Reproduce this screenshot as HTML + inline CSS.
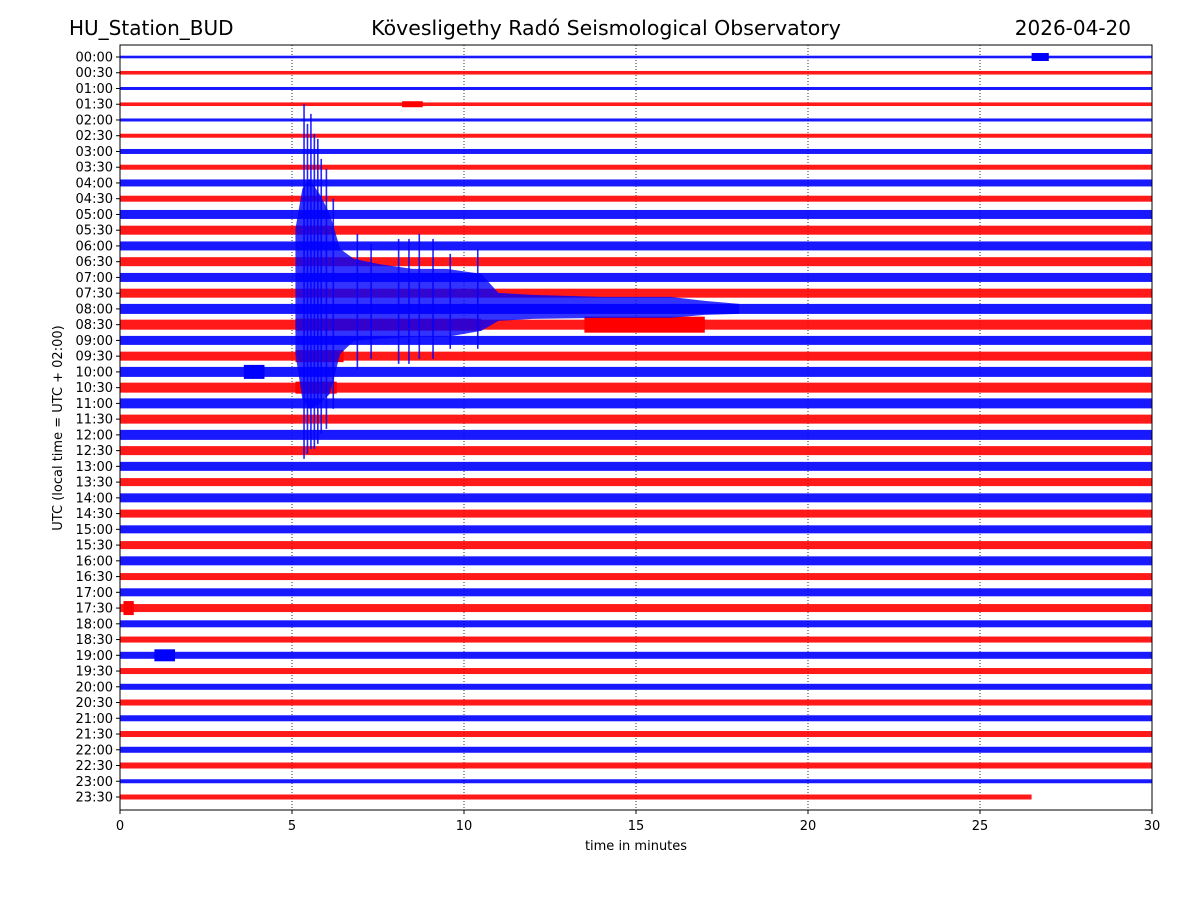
<!DOCTYPE html>
<html><head><meta charset="utf-8">
<style>
body{margin:0;background:#fff;}
svg{display:block;font-family:"DejaVu Sans","Liberation Sans",sans-serif;}
</style></head>
<body>
<svg id="chart" width="1200" height="900" viewBox="0 0 1200 900">
<rect width="1200" height="900" fill="#fff"/>
<text x="69" y="35" font-size="20">HU_Station_BUD</text>
<text x="606" y="35" font-size="20.5" text-anchor="middle">Kövesligethy Radó Seismological Observatory</text>
<text x="1131" y="35" font-size="20" text-anchor="end">2026-04-20</text>
<g id="grid"></g>
<g id="traces"></g>
<g id="axes"></g>
<text x="636" y="850" font-size="13" text-anchor="middle">time in minutes</text>
<text transform="translate(62,428) rotate(-90)" font-size="13" text-anchor="middle">UTC (local time = UTC + 02:00)</text>
</svg>
<script>
const rowLabels = ["00:00","00:30","01:00","01:30","02:00","02:30","03:00","03:30","04:00","04:30","05:00","05:30","06:00","06:30","07:00","07:30","08:00","08:30","09:00","09:30","10:00","10:30","11:00","11:30","12:00","12:30","13:00","13:30","14:00","14:30","15:00","15:30","16:00","16:30","17:00","17:30","18:00","18:30","19:00","19:30","20:00","20:30","21:00","21:30","22:00","22:30","23:00","23:30"];
const baseAmp = [1.3,1.8,1.5,1.8,1.5,2,2.5,2.5,3.5,3,4.5,4.5,4.5,4.5,4.5,4.5,5,5,4.5,4.5,5,5,5,4.5,5,4.5,4.5,4,4.5,4,4,4,4.5,3.5,4,4,3.5,3,3.5,3,3,3,3,3,3,3,2,2.5];
const rowEnd = [30,30,30,30,30,30,30,30,30,30,30,30,30,30,30,30,30,30,30,30,30,30,30,30,30,30,30,30,30,30,30,30,30,30,30,30,30,30,30,30,30,30,30,30,30,30,30,26.5];
const xTicks = [0,5,10,15,20,25,30];
// earthquake envelope on 08:00 row (px above / below baseline)
const quakeRow = 16;
const quakeMin = [5.1,5.3,5.5,5.8,6.1,6.4,6.8,7.5,8.5,9.5,10.5,11,12,14,16,17,18];
const quakeUp  = [80,120,130,115,95,60,50,45,40,40,35,16,14,12,12,8,5];
const quakeDown= [45,90,100,95,85,45,32,30,28,28,22,12,10,9,9,6,5];
// individual spikes: minute, up px, down px
const spikeMin  = [5.35,5.45,5.55,5.65,5.75,5.85,6.0,6.2,6.9,7.3,8.1,8.4,8.7,9.1,9.6,10.4];
const spikeUp   = [205,185,195,175,170,150,140,110,75,65,70,70,75,70,55,60];
const spikeDown = [150,145,140,140,135,125,120,100,60,50,55,55,50,50,40,40];
// smaller events: row, start min, end min, half amplitude px
const evRow   = [17,17,19,21,20,38,35,0,3];
const evStart = [5.1,13.5,5.1,5.1,3.6,1.0,0.1,26.5,8.2];
const evEnd   = [10.5,17,6.5,6.3,4.2,1.6,0.4,27.0,8.8];
const evAmp   = [6,8,6,6,7,6,7,4,3];

const NS="http://www.w3.org/2000/svg";
const X0=120,X1=1152,Y0=45,Y1=810;
const xs=m=>X0+m*(X1-X0)/30;
const ys=i=>57+i*(797-57)/47;
const color=i=>i%2===0?"#0000ff":"#ff0000";
const grid=document.getElementById('grid'),tr=document.getElementById('traces'),ax=document.getElementById('axes');
function mk(tag,attrs,parent){const e=document.createElementNS(NS,tag);for(const k in attrs)e.setAttribute(k,attrs[k]);parent.appendChild(e);return e;}

xTicks.forEach(t=>{
  if(t>0&&t<30){const l=mk('line',{x1:xs(t),x2:xs(t),y1:Y0,y2:Y1,stroke:'#000','stroke-width':0.8,'stroke-dasharray':'1,2'},grid);
  
  }
  const tk=mk('line',{x1:xs(t),x2:xs(t),y1:Y1,y2:Y1+4,stroke:'#000'},ax);
  
  
  const tx=mk('text',{x:xs(t),y:Y1+20,'font-size':13,'text-anchor':'middle'},ax);tx.textContent=t;
  
  
});

rowLabels.forEach((lab,i)=>{
  const y=ys(i),a=baseAmp[i];
  const r=mk('rect',{x:xs(0),y:y-a,width:xs(rowEnd[i])-xs(0),height:2*a,fill:color(i),opacity:0.9},tr);
  
  
  const tk=mk('line',{x1:X0-4,x2:X0,y1:y,y2:y,stroke:'#000'},ax);
  
  
  const tx=mk('text',{x:X0-7,y:y+4.5,'font-size':13,'text-anchor':'end'},ax);tx.textContent=lab;
  
  
});

evRow.forEach((r,k)=>{
  const y=ys(r),a=evAmp[k];
  const e=mk('rect',{x:xs(evStart[k]),y:y-a,width:xs(evEnd[k])-xs(evStart[k]),height:2*a,fill:color(r)},tr);
  
  
});

{
  const y=ys(quakeRow);
  let pts=quakeMin.map((m,k)=>xs(m)+','+(y-quakeUp[k]));
  for(let k=quakeMin.length-1;k>=0;k--)pts.push(xs(quakeMin[k])+','+(y+quakeDown[k]));
  const p=mk('polygon',{points:pts.join(' '),fill:'#0000ff',opacity:0.8},tr);
  
  
  spikeMin.forEach((m,k)=>{
    const s=mk('line',{x1:xs(m),x2:xs(m),y1:y-spikeUp[k],y2:y+spikeDown[k],stroke:'#0000ff','stroke-width':1.6,opacity:0.85},tr);
    
    
  });
}
const fr=mk('rect',{x:X0,y:Y0,width:X1-X0,height:Y1-Y0,fill:'none',stroke:'#000','stroke-width':1},ax);


</script>
</body></html>
